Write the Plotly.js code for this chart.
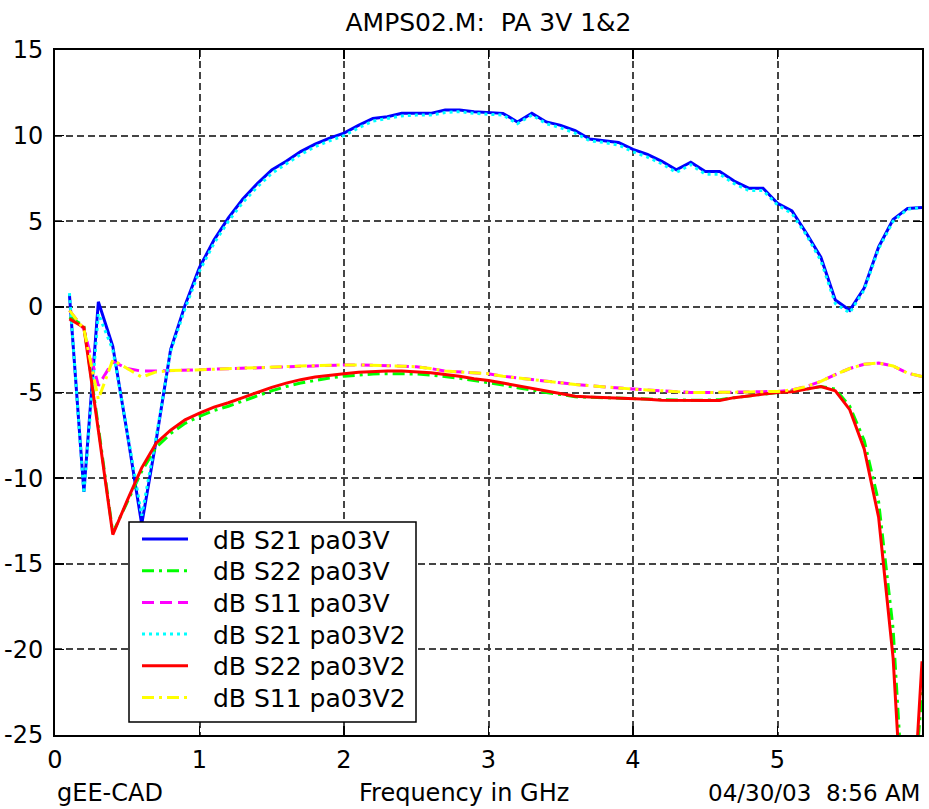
<!DOCTYPE html>
<html>
<head>
<meta charset="utf-8">
<script src="https://cdn.plot.ly/plotly-3.0.1.min.js"></script>
<style>
html,body{margin:0;padding:0;background:#fff;}
#chart{width:929px;height:809px;}
</style>
</head>
<body>
<div id="chart"></div>
<script>
// Frequency in GHz
const freq = [0.1,0.2,0.3,0.4,0.5,0.6,0.7,0.8,0.9,1.0,
  1.1,1.2,1.3,1.4,1.5,1.6,1.7,1.8,1.9,2.0,
  2.1,2.2,2.3,2.4,2.5,2.6,2.7,2.8,2.9,3.0,
  3.1,3.2,3.3,3.4,3.5,3.6,3.7,3.8,3.9,4.0,
  4.1,4.2,4.3,4.4,4.5,4.6,4.7,4.8,4.9,5.0,
  5.1,5.2,5.3,5.4,5.5,5.6,5.7,5.8,5.9,6.0];

const s21_v1 = [0.7,-10.8,0.3,-2.3,-7.4,-12.7,-7.8,-2.5,0.1,2.3,
  3.9,5.2,6.3,7.2,8.0,8.5,9.07,9.5,9.85,10.15,
  10.6,11.0,11.1,11.3,11.3,11.3,11.5,11.5,11.4,11.35,
  11.3,10.8,11.3,10.8,10.6,10.3,9.8,9.7,9.6,9.2,
  8.9,8.5,8.0,8.45,7.9,7.9,7.35,6.93,6.93,6.05,
  5.6,4.3,2.9,0.4,-0.2,1.1,3.5,5.1,5.75,5.8];

const s22_v1 = [-0.6,-1.1,-7.0,-13.2,-11.4,-9.6,-8.2,-7.4,-6.8,-6.4,
  -6.05,-5.8,-5.5,-5.2,-4.9,-4.65,-4.45,-4.3,-4.15,-4.05,
  -3.97,-3.92,-3.9,-3.9,-3.92,-3.98,-4.07,-4.17,-4.3,-4.42,
  -4.57,-4.72,-4.88,-5.0,-5.12,-5.25,-5.28,-5.3,-5.32,-5.33,
  -5.38,-5.42,-5.45,-5.45,-5.45,-5.42,-5.3,-5.2,-5.1,-5.0,
  -4.93,-4.8,-4.65,-4.8,-5.8,-7.8,-11.4,-18.8,-33,-22.5];

const s11_v1 = [-0.2,-1.3,-4.6,-3.2,-3.6,-3.75,-3.75,-3.72,-3.7,-3.68,
  -3.65,-3.6,-3.58,-3.55,-3.5,-3.49,-3.45,-3.42,-3.4,-3.39,
  -3.39,-3.4,-3.43,-3.46,-3.5,-3.6,-3.75,-3.8,-3.85,-3.9,
  -4.05,-4.15,-4.26,-4.35,-4.45,-4.53,-4.6,-4.68,-4.75,-4.8,
  -4.85,-4.9,-4.95,-5.0,-5.0,-5.0,-4.98,-4.97,-4.95,-4.94,
  -4.85,-4.65,-4.35,-3.95,-3.6,-3.35,-3.28,-3.45,-3.87,-4.07];

const s21_v2 = [0.8,-10.9,-0.4,-2.5,-7.3,-12.2,-7.6,-2.6,-0.1,2.1,
  3.7,5.0,6.1,7.0,7.8,8.35,8.9,9.35,9.7,10.0,
  10.45,10.85,11.0,11.15,11.2,11.2,11.35,11.4,11.3,11.25,
  11.2,10.7,11.2,10.7,10.45,10.15,9.7,9.6,9.45,9.05,
  8.75,8.35,7.85,8.3,7.75,7.75,7.2,6.8,6.8,5.95,
  5.45,4.2,2.7,0.2,-0.35,1.0,3.4,5.0,5.7,5.8];

const s22_v2 = [-0.7,-1.2,-7.2,-13.3,-11.3,-9.4,-7.96,-7.2,-6.6,-6.2,
  -5.85,-5.6,-5.3,-5.0,-4.7,-4.45,-4.25,-4.1,-3.98,-3.9,
  -3.82,-3.78,-3.75,-3.75,-3.78,-3.85,-3.95,-4.05,-4.2,-4.3,
  -4.45,-4.6,-4.75,-4.9,-5.05,-5.22,-5.27,-5.3,-5.32,-5.33,
  -5.4,-5.45,-5.47,-5.47,-5.47,-5.47,-5.3,-5.2,-5.1,-5.0,
  -4.95,-4.8,-4.65,-4.9,-6.0,-8.3,-12.3,-20.5,-35,-20.7];

const s11_v2 = [-0.2,-1.3,-5.4,-3.1,-3.6,-4.1,-3.8,-3.72,-3.7,-3.68,
  -3.65,-3.6,-3.58,-3.55,-3.5,-3.49,-3.45,-3.42,-3.4,-3.39,
  -3.39,-3.4,-3.43,-3.46,-3.5,-3.6,-3.75,-3.8,-3.85,-3.9,
  -4.05,-4.15,-4.26,-4.35,-4.45,-4.53,-4.6,-4.68,-4.75,-4.8,
  -4.85,-4.9,-4.95,-5.0,-5.0,-5.0,-4.98,-4.97,-4.95,-4.94,
  -4.85,-4.65,-4.35,-3.95,-3.6,-3.35,-3.28,-3.45,-3.87,-4.07];

const seriesNames = ['dB S21 pa03V','dB S22 pa03V','dB S11 pa03V',
                     'dB S21 pa03V2','dB S22 pa03V2','dB S11 pa03V2'];

const xTickVals = [0,1,2,3,4,5,6];
const xTickText = ['0','1','2','3','4','5','6'];
const yTickVals = [-25,-20,-15,-10,-5,0,5,10,15];
const yTickText = ['-25','-20','-15','-10','-5','0','5','10','15'];

const titleText = 'AMPS02.M:  PA 3V 1&amp;2';
const xLabel = 'Frequency in GHz';
const leftNote = 'gEE-CAD';
const rightNote = '04/30/03  8:56 AM';

const FONT = 'DejaVu Sans, Verdana, sans-serif';

const styles = [
  {color:'#0000ff', dash:'solid'},
  {color:'#00ff00', dash:'12px,5px,3px,5px'},
  {color:'#ff00ff', dash:'12px,6px'},
  {color:'#00ffff', dash:'3px,4px'},
  {color:'#ff0000', dash:'solid'},
  {color:'#ffff00', dash:'12px,5px,3px,5px'}
];
const ys = [s21_v1, s22_v1, s11_v1, s21_v2, s22_v2, s11_v2];

const traces = ys.map((y,i)=>({
  x: freq, y: y, type:'scatter', mode:'lines', name: seriesNames[i],
  line:{color:styles[i].color, dash:styles[i].dash, width:3},
  hoverinfo:'skip', showlegend:false
}));

// plot-area geometry in pixels (for placing the legend box)
const PL = 55, PR = 922, PT = 50, PB = 735;
const px = v => (v - PL) / (PR - PL);
const py = v => (PB - v) / (PB - PT);

const shapes = [];
const annotations = [];
// legend box
shapes.push({type:'rect', xref:'paper', yref:'paper', layer:'above',
  x0:px(129), x1:px(416), y0:py(722), y1:py(522),
  fillcolor:'#fff', line:{color:'#000', width:1.5}});
seriesNames.forEach((name,i)=>{
  const yy = 539 + 31.7*i;
  shapes.push({type:'line', xref:'paper', yref:'paper', layer:'above',
    x0:px(142), x1:px(188), y0:py(yy), y1:py(yy),
    line:{color:styles[i].color, width:3, dash:styles[i].dash}});
  annotations.push({text:name, xref:'paper', yref:'paper', x:px(211), y:py(yy+1),
    xanchor:'left', yanchor:'middle', showarrow:false,
    font:{family:FONT, size:25, color:'#000'}});
});

annotations.push(
  {text:leftNote, xref:'paper', yref:'paper', x:0, y:0, xanchor:'left', yanchor:'middle', yshift:-58, showarrow:false, font:{family:FONT,size:24,color:'#000'}},
  {text:xLabel, xref:'paper', yref:'paper', x:px(464), y:0, xanchor:'center', yanchor:'middle', yshift:-58, showarrow:false, font:{family:FONT,size:24,color:'#000'}},
  {text:rightNote, xref:'paper', yref:'paper', x:1, y:0, xanchor:'right', yanchor:'middle', yshift:-58, showarrow:false, font:{family:FONT,size:23,color:'#000'}}
);

const axisCommon = {
  showline:true, linecolor:'#000', linewidth:2, mirror:'ticks',
  ticks:'inside', ticklen:9, tickwidth:1.5, tickcolor:'#000',
  showgrid:true, gridcolor:'#444', gridwidth:2, griddash:'7px,4px',
  zeroline:false, tickfont:{family:FONT, size:24, color:'#000'},
  tickmode:'array', fixedrange:true
};

const layout = {
  width:929, height:809,
  margin:{l:PL, r:929-PR, t:PT, b:809-PB},
  paper_bgcolor:'#fff', plot_bgcolor:'#fff',
  font:{family:FONT, size:24, color:'#000'},
  title:{text:titleText, x:0.5, xref:'paper', xanchor:'center',
         y:1-22/809, yref:'container', yanchor:'middle',
         font:{family:FONT, size:25, color:'#000'}},
  xaxis:Object.assign({}, axisCommon, {range:[0,6], tickvals:xTickVals, ticktext:xTickText, ticklabelstandoff:2}),
  yaxis:Object.assign({}, axisCommon, {range:[-25,15], tickvals:yTickVals, ticktext:yTickText, ticklabelstandoff:5}),
  showlegend:false,
  shapes:shapes,
  annotations:annotations
};

Plotly.newPlot('chart', traces, layout, {staticPlot:true, displayModeBar:false});
</script>
</body>
</html>
